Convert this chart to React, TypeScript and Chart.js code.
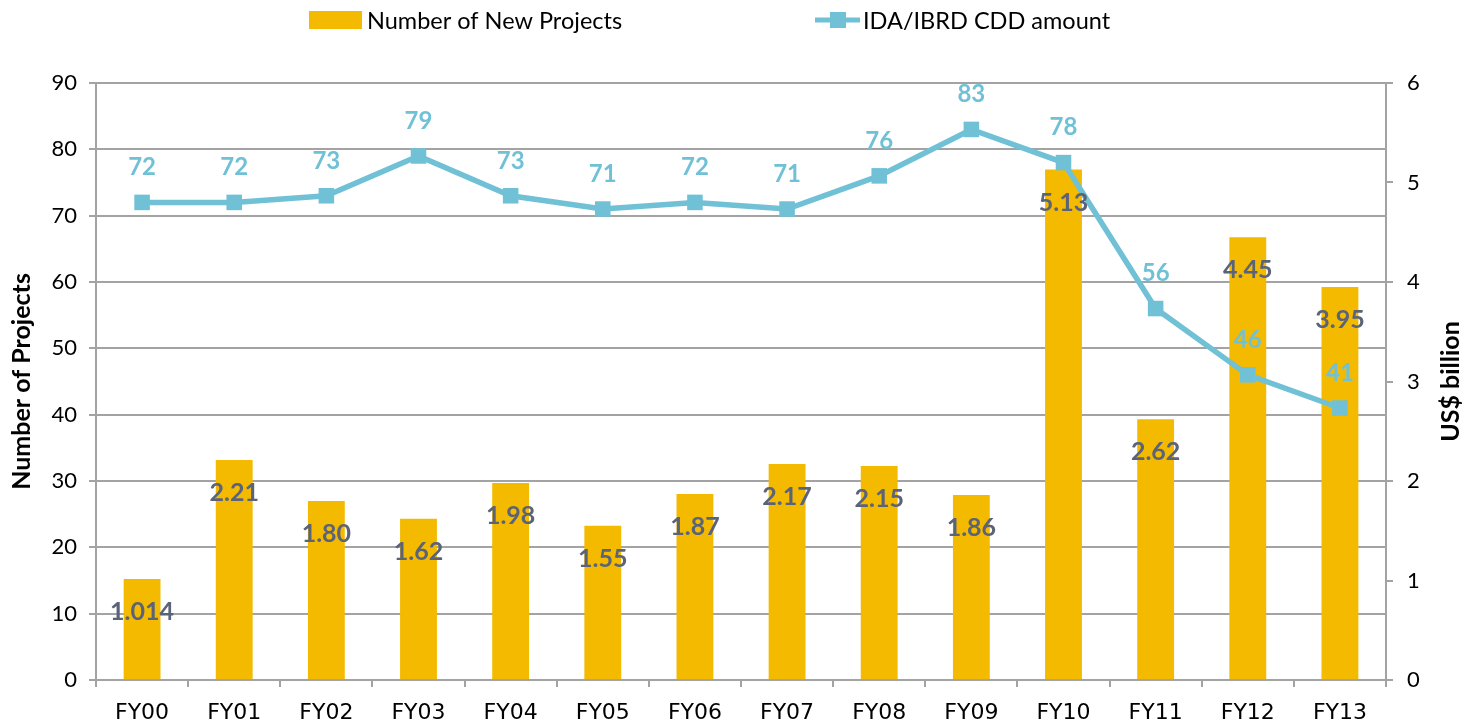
import React, { useEffect, useRef } from "react";
import { Chart, registerables } from "chart.js";

Chart.register(...registerables);

// ---- Data ----
const categories = ["FY00", "FY01", "FY02", "FY03", "FY04", "FY05", "FY06", "FY07", "FY08", "FY09", "FY10", "FY11", "FY12", "FY13"];
// yellow bars (right axis, US$ billion)
const barValues = [1.014, 2.21, 1.8, 1.62, 1.98, 1.55, 1.87, 2.17, 2.15, 1.86, 5.13, 2.62, 4.45, 3.95];
const barLabels = ["1.014", "2.21", "1.80", "1.62", "1.98", "1.55", "1.87", "2.17", "2.15", "1.86", "5.13", "2.62", "4.45", "3.95"];
// blue line (left axis, number of projects)
const lineValues = [72, 72, 73, 79, 73, 71, 72, 71, 76, 83, 78, 56, 46, 41];
const lineLabels = ["72", "72", "73", "79", "73", "71", "72", "71", "76", "83", "78", "56", "46", "41"];
const barLegend = "Number of New Projects";
const lineLegend = "IDA/IBRD CDD amount";
const leftTitle = "Number of Projects";
const rightTitle = "US$ billion";

const BAR_COLOR = "#F3BA00";
const LINE_COLOR = "#70C1D6";
const BAR_LABEL_COLOR = "#5B6378";
const GRID_COLOR = "#A3A3A3";
const FONT = "Lato";

const overlayPlugin = {
  id: "overlay",
  afterDatasetsDraw(chart: any) {
    const ctx = chart.ctx;
    ctx.save();
    ctx.textAlign = "center";
    ctx.textBaseline = "middle";
    ctx.font = `bold 25px ${FONT}`;
    const barMeta = chart.getDatasetMeta(0);
    barMeta.data.forEach((el: any, i: number) => {
      ctx.fillStyle = BAR_LABEL_COLOR;
      ctx.fillText(barLabels[i], el.x, el.y + 33);
    });
    ctx.font = `bold 24px ${FONT}`;
    const lineMeta = chart.getDatasetMeta(1);
    lineMeta.data.forEach((el: any, i: number) => {
      ctx.fillStyle = LINE_COLOR;
      ctx.fillText(lineLabels[i], el.x, el.y - 35);
    });
    ctx.restore();
  },
  afterDraw(chart: any) {
    const ctx = chart.ctx;
    const area = chart.chartArea;
    const cy = (area.top + area.bottom) / 2;
    ctx.save();
    // legend
    ctx.fillStyle = BAR_COLOR;
    ctx.fillRect(309, 11, 53, 18);
    ctx.fillStyle = "#000";
    ctx.font = `23.5px ${FONT}`;
    ctx.textAlign = "left";
    ctx.textBaseline = "middle";
    ctx.fillText(barLegend, 367, 21);
    ctx.strokeStyle = LINE_COLOR;
    ctx.lineWidth = 5;
    ctx.beginPath();
    ctx.moveTo(815, 20);
    ctx.lineTo(860, 20);
    ctx.stroke();
    ctx.fillStyle = LINE_COLOR;
    ctx.fillRect(830, 12, 16, 16);
    ctx.fillStyle = "#000";
    ctx.fillText(lineLegend, 863, 21);
    // axis titles
    ctx.font = `bold 25px ${FONT}`;
    ctx.textAlign = "center";
    ctx.save();
    ctx.translate(22, cy);
    ctx.rotate(-Math.PI / 2);
    ctx.fillText(leftTitle, 0, 0);
    ctx.restore();
    ctx.save();
    ctx.translate(1451, cy);
    ctx.rotate(-Math.PI / 2);
    ctx.fillText(rightTitle, 0, 0);
    ctx.restore();
    ctx.restore();
  },
};

export default function App() {
  const canvasRef = useRef<HTMLCanvasElement | null>(null);

  useEffect(() => {
    if (!canvasRef.current) return;
    const chart = new Chart(canvasRef.current, {
      type: "bar",
      data: {
        labels: categories,
        datasets: [
          {
            type: "bar",
            label: barLegend,
            data: barValues,
            backgroundColor: BAR_COLOR,
            yAxisID: "y1",
            barPercentage: 0.4,
            categoryPercentage: 1,
            order: 1,
          } as any,
          {
            type: "line",
            label: lineLegend,
            data: lineValues,
            borderColor: LINE_COLOR,
            backgroundColor: LINE_COLOR,
            borderWidth: 5.5,
            pointStyle: "rect",
            pointRadius: 11,
            pointBorderWidth: 0,
            pointBackgroundColor: LINE_COLOR,
            yAxisID: "y",
            tension: 0,
            order: 0,
          } as any,
        ],
      },
      options: {
        animation: false,
        responsive: true,
        maintainAspectRatio: false,
        layout: { padding: { top: 83, left: 0, right: 0, bottom: 0 } },
        plugins: {
          legend: { display: false },
          tooltip: { enabled: false },
        },
        scales: {
          x: {
            offset: true,
            grid: {
              display: true,
              drawOnChartArea: false,
              drawTicks: true,
              tickLength: 7,
              color: GRID_COLOR,
              lineWidth: 2,
              offset: true,
            },
            border: { color: GRID_COLOR, width: 2 },
            ticks: {
              color: "#000",
              font: { family: "'DejaVu Sans', sans-serif", size: 22 },
              padding: 13,
              autoSkip: false,
              maxRotation: 0,
            },
            afterFit: (s: any) => {
              s.height = 45;
            },
          },
          y: {
            position: "left",
            min: 0,
            max: 90,
            ticks: {
              stepSize: 10,
              color: "#000",
              font: { family: FONT, size: 22 },
              padding: 12,
            },
            grid: { color: GRID_COLOR, lineWidth: 2, tickLength: 7 },
            border: { color: GRID_COLOR, width: 2 },
            afterFit: (s: any) => {
              s.width = 96;
            },
          },
          y1: {
            position: "right",
            min: 0,
            max: 6,
            ticks: {
              stepSize: 1,
              color: "#000",
              font: { family: FONT, size: 22 },
              padding: 14,
            },
            grid: { drawOnChartArea: false, color: GRID_COLOR, lineWidth: 2, tickLength: 7 },
            border: { color: GRID_COLOR, width: 2 },
            afterFit: (s: any) => {
              s.width = 82;
            },
          },
        },
      } as any,
      plugins: [overlayPlugin],
    });
    return () => chart.destroy();
  }, []);

  return (
    <div style={{ position: "absolute", left: 0, top: 0, width: 1468, height: 725, background: "#fff" }}>
      <canvas ref={canvasRef} />
    </div>
  );
}
